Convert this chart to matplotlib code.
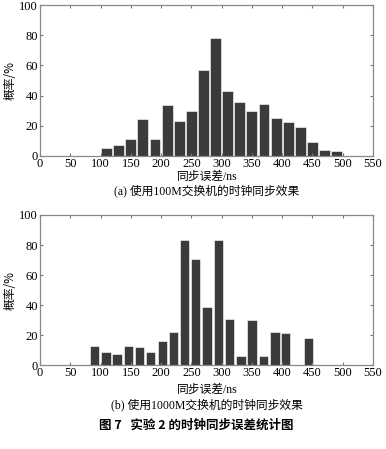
import matplotlib.pyplot as plt

plt.rcParams['font.family'] = ['Liberation Serif', 'Noto Sans CJK SC']

# (a) 100M switch
centers_a = [110, 130, 150, 170, 190, 210, 230, 250, 270, 290,
             310, 330, 350, 370, 390, 410, 430, 450, 470, 490]
freq_a = [5.1, 7.1, 11, 24.3, 11, 33.6, 23, 29.6, 56.7, 78.4,
          43.3, 35.5, 29.6, 34.2, 25, 22.3, 19, 9, 4, 3.3]

# (b) 1000M switch
centers_b = [90, 109, 127, 146, 164, 183, 202, 220, 239, 257,
             276, 295, 313, 332, 350, 369, 388, 406, 425, 443]
freq_b = [12.7, 8.7, 7.3, 12.7, 12, 8.7, 15.8, 22.2, 83.3, 70.4,
          38.4, 83.3, 30.7, 6, 30, 6, 22.2, 21.6, 0, 17.8]

xticks = [0, 50, 100, 150, 200, 250, 300, 350, 400, 450, 500, 550]
yticks = [0, 20, 40, 60, 80, 100]

W, H = 386, 449
fig = plt.figure(figsize=(W / 100, H / 100), dpi=100)

def style(ax):
    ax.set_xlim(0, 550)
    ax.set_ylim(0, 100)
    ax.set_xticks(xticks)
    ax.set_yticks(yticks)
    ax.tick_params(direction='in', top=True, right=True, length=2.5,
                   labelsize=9, color='#777777', pad=1.5)
    for s in ax.spines.values():
        s.set_color('#888888')
        s.set_linewidth(0.9)
    ax.set_ylabel('概率/%', fontsize=8.5, family=['Noto Sans CJK SC'], labelpad=2)

ax1 = fig.add_axes([40 / W, 1 - 156 / H, 333 / W, 151 / H])
ax1.bar(centers_a, freq_a, width=18, color='#3b3b3b', edgecolor='white', linewidth=0.4)
style(ax1)

ax2 = fig.add_axes([40 / W, 1 - 365 / H, 333 / W, 150 / H])
ax2.bar(centers_b, freq_b, width=15.4, color='#3b3b3b', edgecolor='white', linewidth=0.4)
style(ax2)

cx = 207 / W
fig.text(cx, 1 - 177 / H, '同步误差/ns', ha='center', va='center', fontsize=8.5)
fig.text(cx, 1 - 191 / H, '(a) 使用100M交换机的时钟同步效果', ha='center', va='center', fontsize=8.5)
fig.text(cx, 1 - 390 / H, '同步误差/ns', ha='center', va='center', fontsize=8.5)
fig.text(cx, 1 - 405 / H, '(b) 使用1000M交换机的时钟同步效果', ha='center', va='center', fontsize=8.5)
fig.text(196 / W, 1 - 425 / H, '图 7   实验 2 的时钟同步误差统计图', ha='center', va='center',
         fontsize=9, fontweight='bold', family=['Noto Sans CJK SC'])

fig.savefig('out.png', dpi=100)
